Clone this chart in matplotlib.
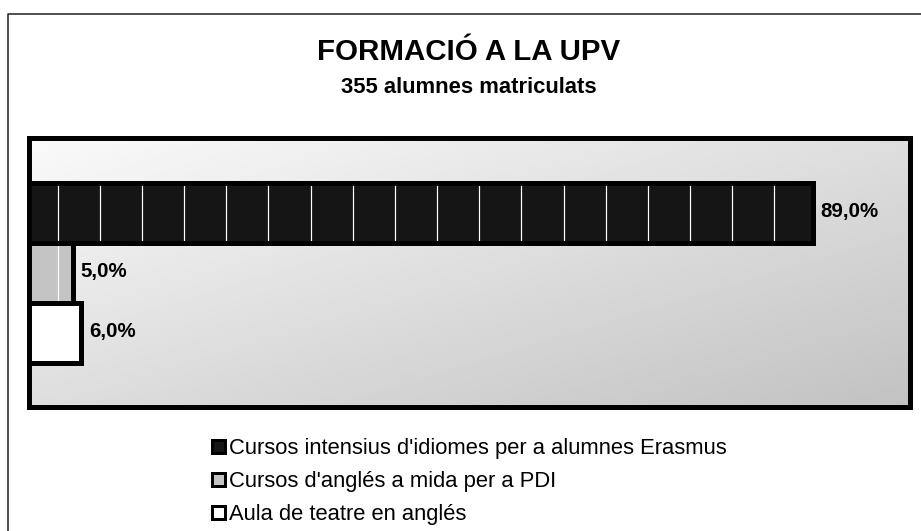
#!/usr/bin/env python3
# formacio_upv.py

import matplotlib
matplotlib.use("Agg")
import matplotlib.pyplot as plt
import numpy as np

from matplotlib.lines import Line2D
from matplotlib.patches import Patch

plt.rcParams['font.family'] = ['Liberation Sans', 'DejaVu Sans']

title = "FORMACIÓ A LA UPV"
subtitle = "355 alumnes matriculats"
courses = ["Cursos intensius d'idiomes per a alumnes Erasmus",
           "Cursos d'anglés a mida per a PDI",
           "Aula de teatre en anglés"]
shares = [89.0, 5.0, 6.0]
fills = ['#151515', '#c4c4c4', 'white']

W, H = 921, 531
PX = 72 / 100  # one pixel in points at dpi 100


def plot(fig):
    ax = fig.add_axes([28.5 / W, 124.5 / H, 881 / W, 269 / H])

    # diagonal grey gradient behind the bars
    gx, gy = np.meshgrid(np.linspace(0, 1, 300), np.linspace(0, 1, 100))
    shade = 0.98 - 0.22 * (gx + gy) / 2
    ax.imshow(shade, cmap='gray', vmin=0, vmax=1, extent=(0, 1, 0, 1),
              transform=ax.transAxes, aspect='auto', zorder=0,
              interpolation='bilinear')

    ypos = np.arange(len(shares))[::-1]
    for y, v, c in zip(ypos, shares, fills):
        ax.barh(y, v, height=1, color=c, edgecolor='none', zorder=2)
        # white stripes of the fill pattern
        ax.vlines(np.arange(3.31, v, 4.785), y - 0.5, y + 0.5,
                  color='white', lw=1.2 * PX, zorder=3)
        ax.barh(y, v, height=1, color='none', edgecolor='black',
                lw=5 * PX, zorder=4)
        ax.annotate(f"{v:.1f}%".replace('.', ','), (v, y),
                    xytext=(8 * PX, 1.5 * PX), textcoords='offset points',
                    ha='left', va='center', fontsize=20.5 * PX,
                    fontweight='bold', zorder=6)

    ax.set_xlim(0, 100)
    ax.set_ylim(-1.233, 3.25)
    ax.set_xticks([])
    ax.set_yticks([])
    for s in ax.spines.values():
        s.set_linewidth(5 * PX)
        s.set_zorder(5)

    fig.text(469 / W, 1 - 60 / H, title, ha='center', va='baseline',
             fontsize=29.5 * PX, fontweight='bold')
    fig.text(469 / W, 1 - 93 / H, subtitle, ha='center', va='baseline',
             fontsize=22 * PX, fontweight='bold')

    handles = [Patch(facecolor=c, edgecolor='black', lw=3 * PX) for c in fills]
    fig.legend(handles, courses, loc='upper left',
               bbox_to_anchor=(211.7 / W, 1 - 438 / H), frameon=False,
               fontsize=22 * PX, borderpad=0, borderaxespad=0,
               handlelength=0.62, handleheight=0.53, handletextpad=0.15,
               labelspacing=0.55)

    # outer chart frame (cut off at right and bottom)
    fig.add_artist(Line2D([7.5 / W, 7.5 / W, 1], [0, 1 - 13.5 / H, 1 - 13.5 / H],
                          color='#1a1a1a', lw=1.5 * PX,
                          transform=fig.transFigure))

    fig.savefig("out.png", dpi=100)


def main():
    fig = plt.figure(figsize=(W / 100, H / 100))
    plot(fig)


if __name__ == "__main__":
    main()
